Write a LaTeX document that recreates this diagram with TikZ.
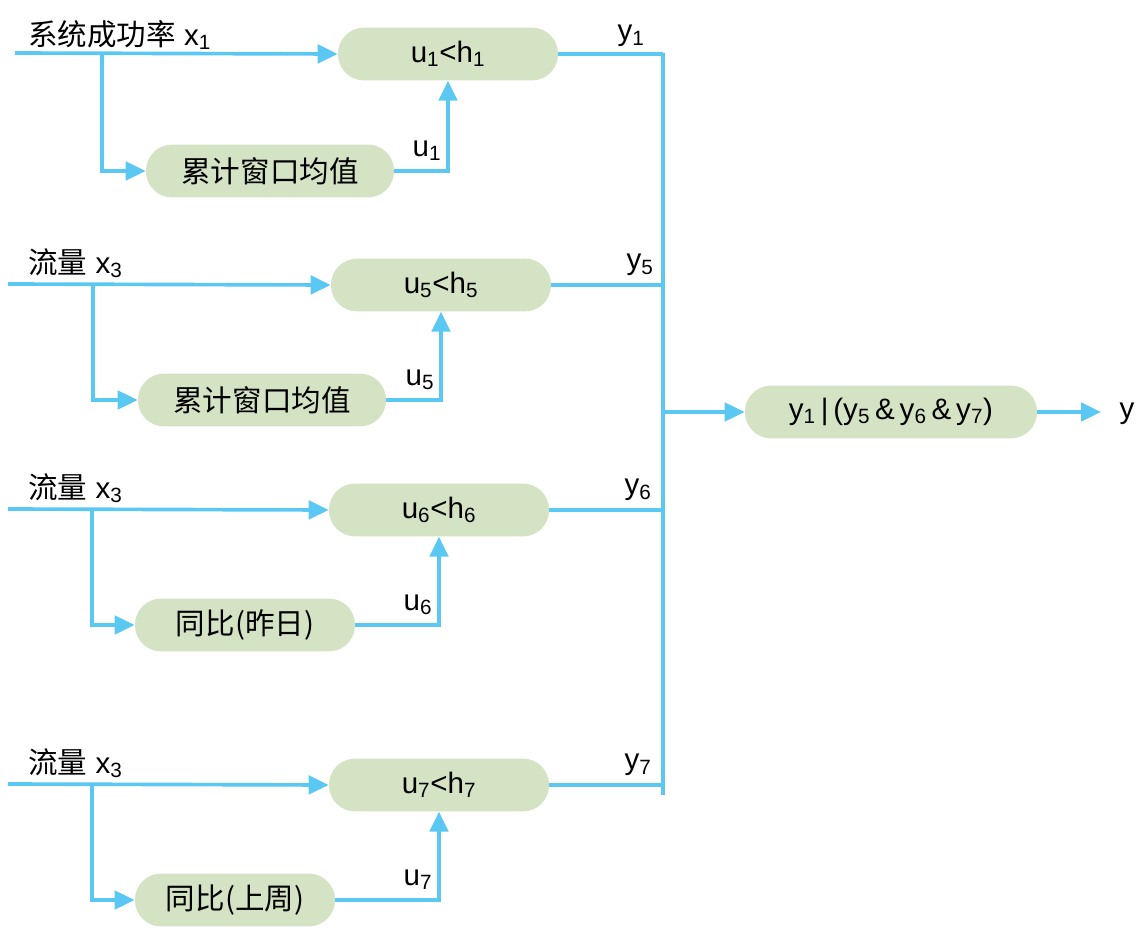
\documentclass[tikz,border=0pt]{standalone}
\usepackage{fontspec}
\setmainfont{Liberation Sans}
\newfontfamily\cjk{Noto Sans CJK SC}
\usetikzlibrary{arrows.meta, positioning, calc}
\definecolor{box-fill}{HTML}{D5E3C5}
\definecolor{wire}{HTML}{5AC8F2}
\newcommand\lo[1]{\textsubscript{#1}}
\tikzset{
  testbox/.style={
    fill=box-fill, draw=none, rounded corners=0.65cm, inner sep=0pt,
    minimum width=5.5cm, minimum height=1.32cm, align=center,
    font=\fontsize{21}{24}\selectfont
  },
  calcbox/.style={testbox, minimum width=#1},
  flow/.style={-{Triangle[length=0.5cm, width=0.46cm]}, line width=2.6pt, draw=wire},
  wire-line/.style={line width=2.6pt, draw=wire},
  lbl/.style={font=\fontsize{21}{24}\selectfont, inner sep=0pt}
}

\begin{document}
\begin{tikzpicture}[x=0.025cm, y=-0.025cm]
  \useasboundingbox (0,0) rectangle (1140,932);

  % ---- Block 1: success rate -----------------------------------------------
  \coordinate (in1) at (15,53);
  \coordinate (br1) at (102,53);
  \node[testbox] (c1) at (448,54) {u\lo{1}<h\lo{1}};
  \node[calcbox=6.2cm] (a1) at (270,171) {\cjk 累计窗口均值};
  \node[lbl, anchor=west] (t1) at (28,35) {{\cjk 系统成功率} x\lo{1}};
  \draw[flow] (in1) -- (c1.west);
  \draw[flow] (br1) |- (a1.west);
  \draw[flow] (a1.east) -| (c1.south);
  \node[lbl] (u1) at (427,151) {u\lo{1}};

  % ---- Block 2: flow, window mean -----------------------------------------
  \coordinate (in5) at (8,284);
  \coordinate (br5) at (93,284);
  \node[testbox] (c5) at (441,285) {u\lo{5}<h\lo{5}};
  \node[calcbox=6.2cm] (a5) at (262,400) {\cjk 累计窗口均值};
  \node[lbl, anchor=west] (t5) at (28,263) {{\cjk 流量} x\lo{3}};
  \draw[flow] (in5) -- (c5.west);
  \draw[flow] (br5) |- (a5.west);
  \draw[flow] (a5.east) -| (c5.south);
  \node[lbl] (u5) at (420,380) {u\lo{5}};

  % ---- Block 3: flow, yesterday -------------------------------------------
  \coordinate (in6) at (8,509);
  \coordinate (br6) at (92,509);
  \node[testbox] (c6) at (439,510) {u\lo{6}<h\lo{6}};
  \node[calcbox=5.5cm] (a6) at (245,625) {{\cjk 同比(昨日)}};
  \node[lbl, anchor=west] (t6) at (28,488) {{\cjk 流量} x\lo{3}};
  \draw[flow] (in6) -- (c6.west);
  \draw[flow] (br6) |- (a6.west);
  \draw[flow] (a6.east) -| (c6.south);
  \node[lbl] (u6) at (418,605) {u\lo{6}};

  % ---- Block 4: flow, last week -------------------------------------------
  \coordinate (in7) at (8,784);
  \coordinate (br7) at (92,784);
  \node[testbox] (c7) at (439,785) {u\lo{7}<h\lo{7}};
  \node[calcbox=5.0cm] (a7) at (235,900) {{\cjk 同比(上周)}};
  \node[lbl, anchor=west] (t7) at (28,763) {{\cjk 流量} x\lo{3}};
  \draw[flow] (in7) -- (c7.west);
  \draw[flow] (br7) |- (a7.west);
  \draw[flow] (a7.east) -| (c7.south);
  \node[lbl] (u7) at (418,880) {u\lo{7}};

  % ---- Collecting bus ------------------------------------------------------
  \coordinate (busT) at (663,53);
  \coordinate (busB) at (663,795);
  \coordinate (busM) at (663,412);
  \draw[wire-line] (busT) -- (busB);
  \draw[wire-line] (c1.east) -- (c1.east -| busT);
  \draw[wire-line] (c5.east) -- (c5.east -| busT);
  \draw[wire-line] (c6.east) -- (c6.east -| busT);
  \draw[wire-line] (c7.east) -- (c7.east -| busT);
  \node[lbl] (y1) at (631,36) {y\lo{1}};
  \node[lbl] (y5) at (640,265) {y\lo{5}};
  \node[lbl] (y6) at (638,490) {y\lo{6}};
  \node[lbl] (y7) at (638,765) {y\lo{7}};

  % ---- Combination ---------------------------------------------------------
  \node[calcbox=7.3cm] (res) at (891,412) {y\lo{1}\,|\,(y\lo{5}\,\&\,y\lo{6}\,\&\,y\lo{7})};
  \node[lbl] (y) at (1127,414) {y};
  \coordinate (yend) at (1101,412);
  \draw[flow] (busM) -- (res.west);
  \draw[flow] (res.east) -- (yend);

\end{tikzpicture}
\end{document}
